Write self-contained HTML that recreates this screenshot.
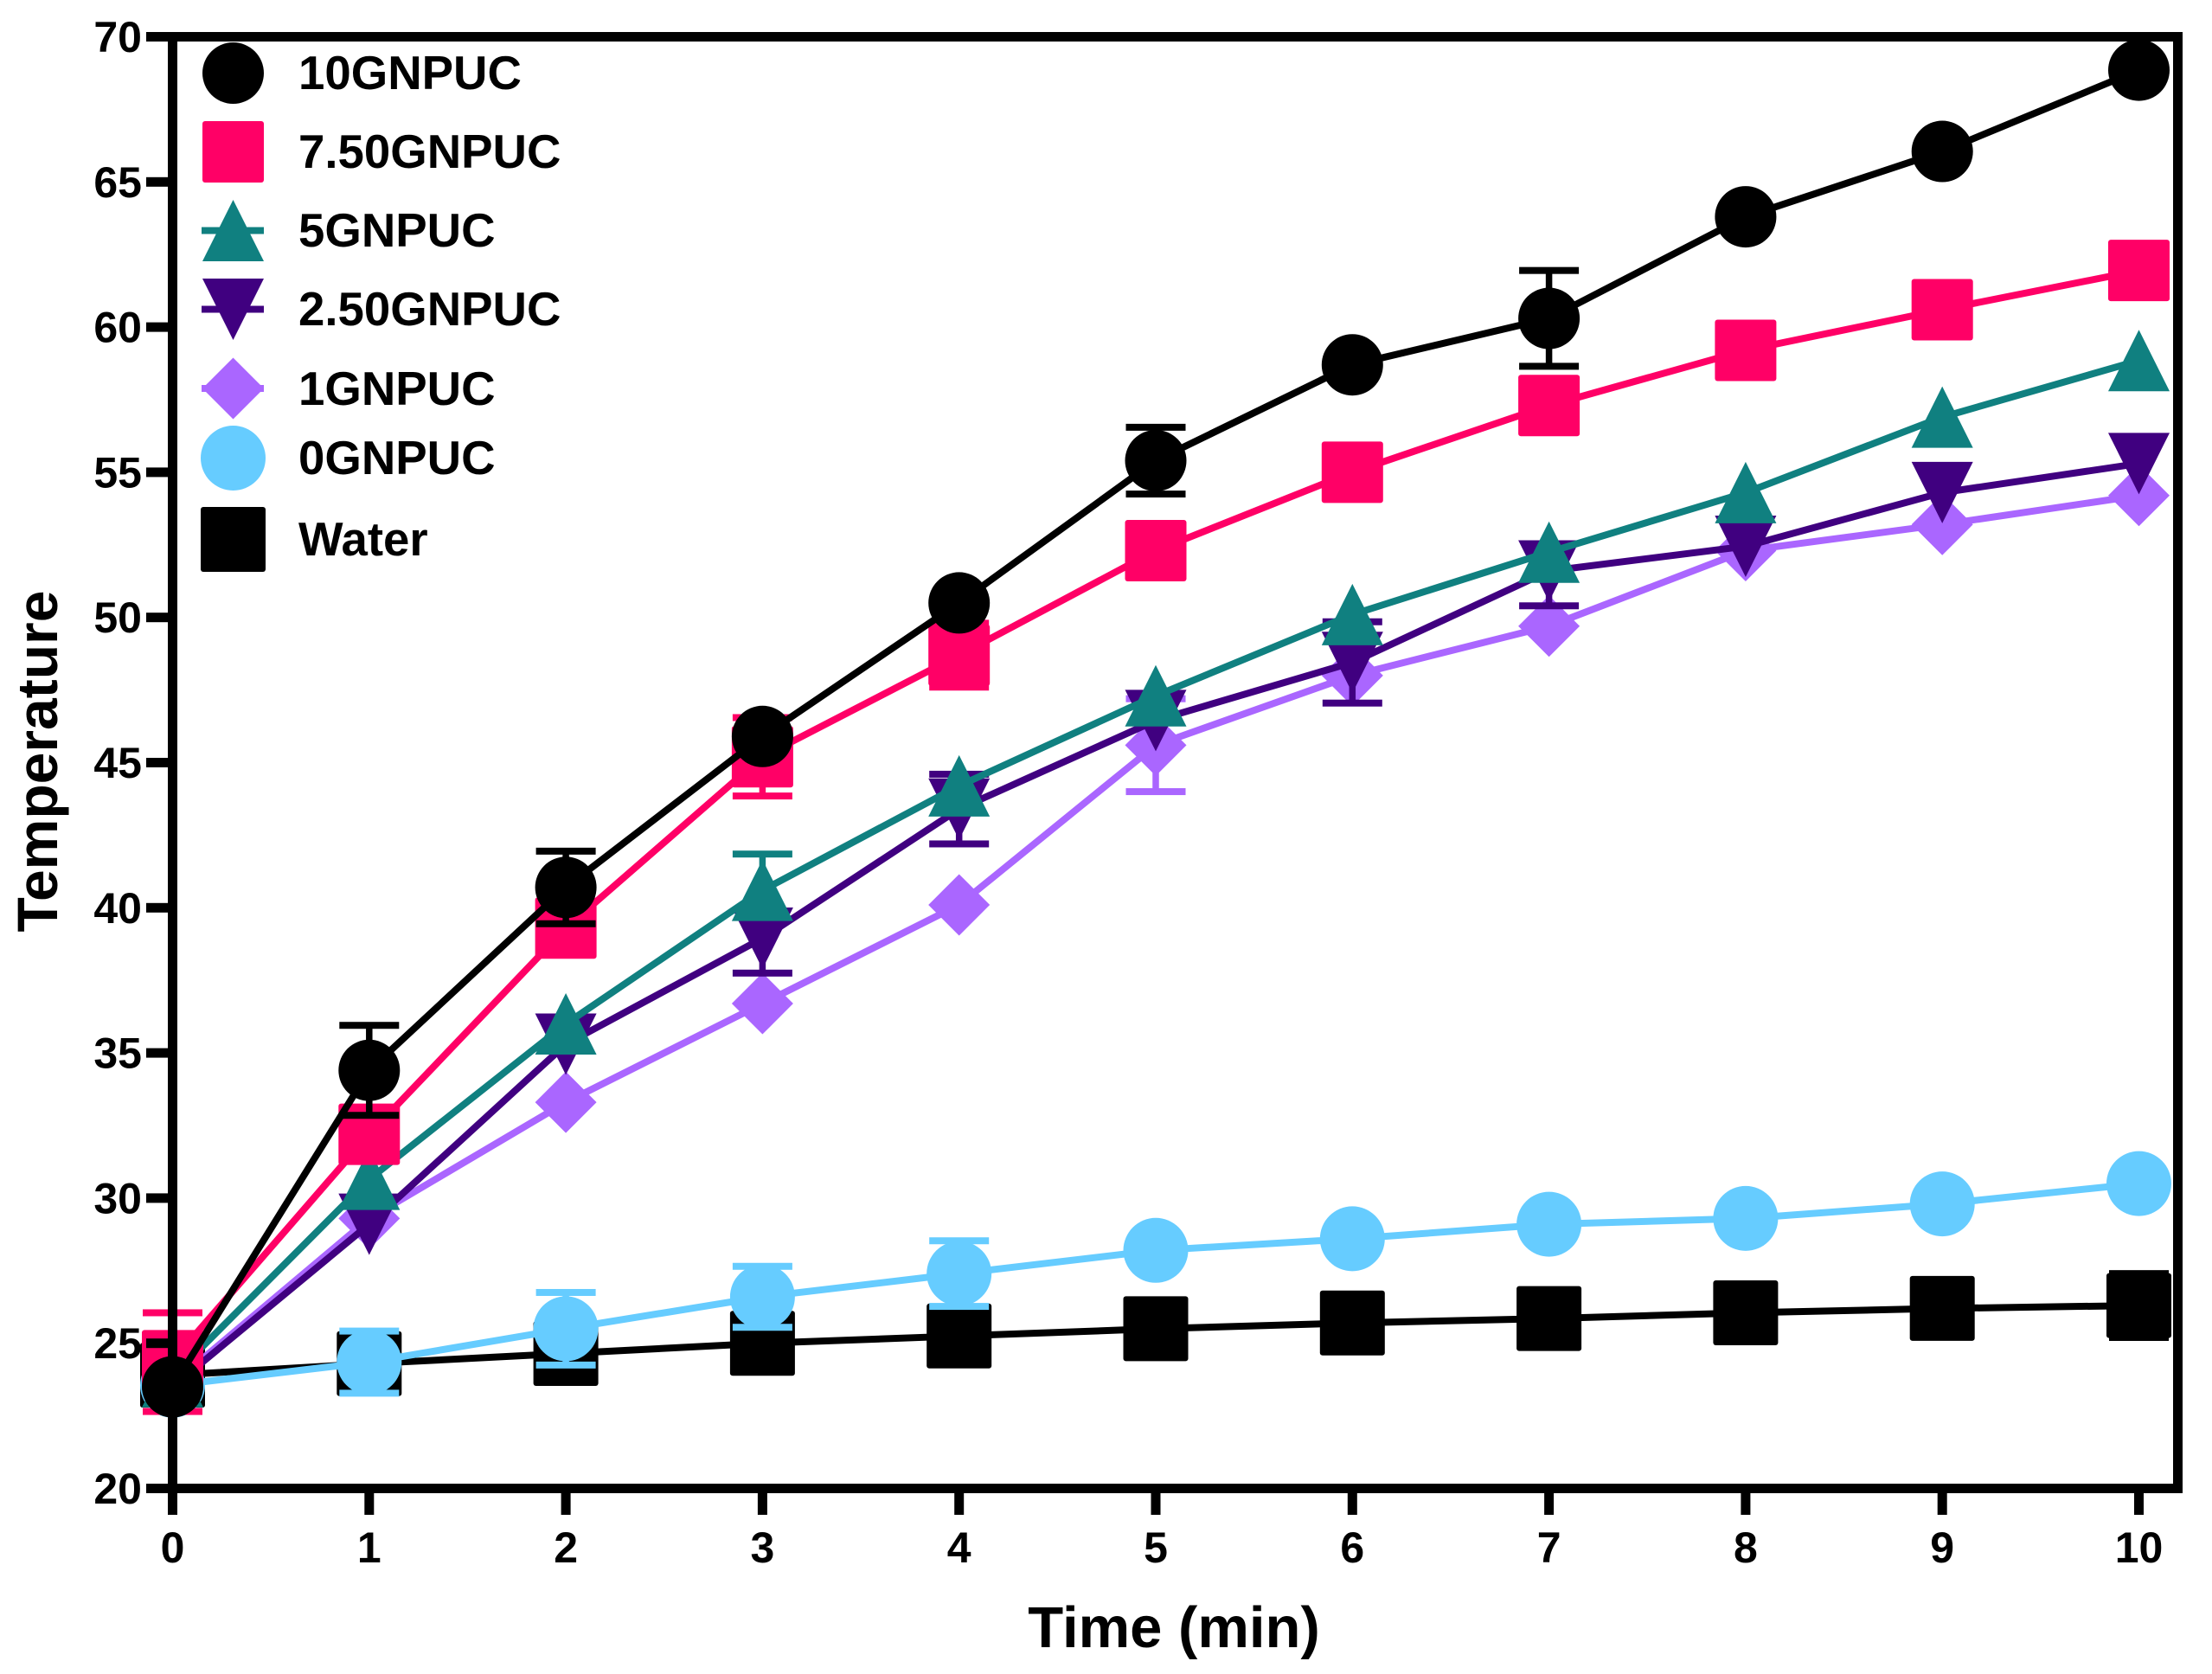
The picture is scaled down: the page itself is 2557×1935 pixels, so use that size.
<!DOCTYPE html>
<html lang="en">
<head>
<meta charset="utf-8">
<title>Temperature vs time chart</title>
<style>
  html, body { margin: 0; padding: 0; background: #ffffff; }
  svg { display: block; }
  text { font-family: "Liberation Sans", Arial, sans-serif; font-weight: bold; fill: #000000; }
</style>
</head>
<body>
<svg id="chart" xmlns="http://www.w3.org/2000/svg" width="2557" height="1935" viewBox="0 0 2557 1935">
  <rect x="0" y="0" width="2557" height="1935" fill="#ffffff"/>
  <g id="series-layer"></g>
  <g id="axes-layer"></g>
  <text x="1357" y="1904" font-size="67" text-anchor="middle">Time (min)</text>
  <text transform="translate(66 880) rotate(-90)" font-size="66" text-anchor="middle">Temperature</text>
  <g>
    <g id="legend-symbols"></g>
    <text x="345" y="103" font-size="54.6">10GNPUC</text>
    <text x="345" y="194" font-size="54.6">7.50GNPUC</text>
    <text x="345" y="285" font-size="54.6">5GNPUC</text>
    <text x="345" y="376" font-size="54.6">2.50GNPUC</text>
    <text x="345" y="468" font-size="54.6">1GNPUC</text>
    <text x="345" y="548" font-size="54.6">0GNPUC</text>
    <text x="345" y="642" font-size="54.6">Water</text>
  </g>
</svg>
<script>
// ---- chart data ----
const timeMinutes = [0, 1, 2, 3, 4, 5, 6, 7, 8, 9, 10];
const xTickLabels = ["0", "1", "2", "3", "4", "5", "6", "7", "8", "9", "10"];
const yTickLabels = ["20", "25", "30", "35", "40", "45", "50", "55", "60", "65", "70"];
const yTickValues = [20, 25, 30, 35, 40, 45, 50, 55, 60, 65, 70];

const temp10 = [23.5, 34.4, 40.7, 45.9, 50.5, 55.4, 58.7, 60.3, 63.8, 66.05, 68.85];
const errUp10 = [0, 1.55, 1.25, 0, 0, 1.15, 0, 1.65, 0, 0, 0];
const errDown10 = [0, 1.55, 1.25, 0, 0, 1.15, 0, 1.65, 0, 0, 0];
const temp75 = [24.4, 32.2, 39.3, 45.2, 48.7, 52.3, 55.0, 57.3, 59.2, 60.6, 61.95];
const errUp75 = [1.65, 0.85, 0.9, 1.35, 1.1, 0, 0, 0, 0, 0, 0];
const errDown75 = [1.75, 0.85, 0.9, 1.35, 1.1, 0, 0, 0, 0, 0, 0];
const temp5 = [23.85, 30.65, 36.0, 40.6, 44.2, 47.3, 50.1, 52.25, 54.3, 56.9, 58.85];
const errUp5 = [0, 0, 0, 1.25, 0, 0, 0, 0, 0, 0, 0];
const errDown5 = [0, 0, 0, 0, 0, 0, 0, 0, 0, 0, 0];
const temp25 = [23.5, 29.1, 35.3, 38.95, 43.4, 46.45, 48.45, 51.6, 52.45, 54.3, 55.3];
const errUp25 = [0, 0, 0, 0, 1.2, 0, 1.4, 0, 0, 0, 0];
const errDown25 = [0, 0, 0, 1.2, 1.2, 0, 1.4, 1.2, 0, 0, 0];
const temp1 = [23.6, 29.3, 33.3, 36.7, 40.1, 45.6, 48.0, 49.7, 52.3, 53.2, 54.2];
const errUp1 = [0, 0, 0, 0, 0, 1.6, 0, 0, 0, 0, 0];
const errDown1 = [0, 0, 0, 0, 0, 1.6, 0, 0, 0, 0, 0];
const temp0 = [23.55, 24.35, 25.5, 26.6, 27.4, 28.2, 28.6, 29.1, 29.3, 29.8, 30.5];
const errUp0 = [0, 1.07, 1.25, 1.05, 1.13, 0, 0, 0, 0, 0, 0];
const errDown0 = [0, 1.07, 1.25, 1.05, 1.13, 0, 0, 0, 0, 0, 0];
const tempWater = [23.9, 24.3, 24.65, 25.0, 25.25, 25.5, 25.7, 25.85, 26.05, 26.2, 26.3];
const errUpWater = [0, 0, 0, 0, 0, 0, 0, 0, 0, 0, 1.1];
const errDownWater = [0, 0, 0, 0, 0, 0, 0, 0, 0, 0, 1.1];

const seriesNames = ["water", "0gnpuc", "1gnpuc", "2-50gnpuc", "5gnpuc", "7-50gnpuc", "10gnpuc"];
const seriesColors = ["#000000", "#66CCFF", "#AA66FF", "#400080", "#108080", "#FF0066", "#000000"];
const seriesShapes = ["square", "circle", "diamond", "down", "up", "square", "circle"];
const seriesValues = [tempWater, temp0, temp1, temp25, temp5, temp75, temp10];
const seriesErrorsUp = [errUpWater, errUp0, errUp1, errUp25, errUp5, errUp75, errUp10];
const seriesErrorsDown = [errDownWater, errDown0, errDown1, errDown25, errDown5, errDown75, errDown10];

// ---- axis functions ----
const NS = "http://www.w3.org/2000/svg";
const plotLeft = 199.5, plotRight = 2517.5, plotTop = 42.5, plotBottom = 1720.5;
const xMin = 0, xMax = 10, yMin = 20, yMax = 70, xEnd = 2472.5;
function xScale(v) { return plotLeft + (v - xMin) / (xMax - xMin) * (xEnd - plotLeft); }
function yScale(v) { return plotBottom - (v - yMin) / (yMax - yMin) * (plotBottom - plotTop); }

function make(tag, attrs, parent) {
  const el = document.createElementNS(NS, tag);
  for (const k in attrs) el.setAttribute(k, attrs[k]);
  parent.appendChild(el);
  return el;
}

function drawMarker(shape, cx, cy, size, color, parent) {
  const h = size / 2;
  let el;
  if (shape === "circle") {
    el = make("circle", { cx: cx, cy: cy, r: h, fill: color }, parent);
  } else if (shape === "square") {
    el = make("rect", { x: cx - h, y: cy - h, width: size, height: size, rx: 3, fill: color }, parent);
  } else {
    let pts;
    if (shape === "up") pts = [[cx, cy - h], [cx + h, cy + h], [cx - h, cy + h]];
    else if (shape === "down") pts = [[cx, cy + h], [cx + h, cy - h], [cx - h, cy - h]];
    else pts = [[cx, cy - h], [cx + h, cy], [cx, cy + h], [cx - h, cy]];
    el = make("polygon", { points: pts.map(function (p) { return p.join(","); }).join(" "), fill: color }, parent);
  }
  return el;
}

function drawError(x, fromY, toY, color, name, parent) {
  const stem = make("line", { x1: x, x2: x, y1: fromY, y2: toY, stroke: color, "stroke-width": 7.5 }, parent);
  
  
  const cap = make("rect", { x: x - 34.5, y: toY - 4, width: 69, height: 8, fill: color }, parent);
  
  
}

// ---- series ----
const seriesLayer = document.getElementById("series-layer");
seriesNames.forEach(function (name, s) {
  const color = seriesColors[s];
  const values = seriesValues[s];
  const errUp = seriesErrorsUp[s];
  const errDown = seriesErrorsDown[s];
  const markerSize = (name === "water" || name === "0gnpuc") ? 75 : 71;
  const group = make("g", {}, seriesLayer);
  
  

  timeMinutes.forEach(function (t, i) {
    const x = xScale(t);
    const mid = yScale(values[i]);
    if (errUp[i]) drawError(x, mid, yScale(values[i] + errUp[i]), color, name, group);
    if (errDown[i]) drawError(x, mid, yScale(values[i] - errDown[i]), color, name, group);
  });

  const pts = timeMinutes.map(function (t, i) { return xScale(t) + "," + yScale(values[i]); }).join(" ");
  const line = make("polyline", { points: pts, fill: "none", stroke: color, "stroke-width": 8, "stroke-linejoin": "miter" }, group);
  
  

  timeMinutes.forEach(function (t, i) {
    const m = drawMarker(seriesShapes[s], xScale(t), yScale(values[i]), markerSize, color, group);
    
    
  });
});

// ---- axes ----
const axes = document.getElementById("axes-layer");
const axisW = 11;
const frameLeft = make("rect", { x: plotLeft - axisW / 2, y: plotTop - axisW / 2, width: axisW, height: 1751 - plotTop + axisW / 2, fill: "#000" }, axes);


const frameBottom = make("rect", { x: 169, y: plotBottom - axisW / 2, width: plotRight + axisW / 2 - 169, height: axisW, fill: "#000" }, axes);


const frameTop = make("rect", { x: 169, y: plotTop - axisW / 2, width: plotRight + axisW / 2 - 169, height: axisW, fill: "#000" }, axes);


const frameRight = make("rect", { x: plotRight - axisW / 2, y: plotTop - axisW / 2, width: axisW, height: plotBottom - plotTop + axisW, fill: "#000" }, axes);



yTickValues.forEach(function (v, i) {
  const y = yScale(v);
  const tick = make("rect", { x: 169, y: y - axisW / 2, width: 30, height: axisW, fill: "#000" }, axes);
  
  
  const label = make("text", { x: 164, y: y + 17.5, "font-size": 50, "text-anchor": "end" }, axes);
  
  
  label.textContent = yTickLabels[i];
});

timeMinutes.forEach(function (t, i) {
  const x = xScale(t);
  const tick = make("rect", { x: x - axisW / 2, y: plotBottom, width: axisW, height: 30.5, fill: "#000" }, axes);
  
  
  const label = make("text", { x: x, y: 1806, "font-size": 50, "text-anchor": "middle" }, axes);
  
  
  label.textContent = xTickLabels[i];
});

// ---- legend symbols ----
const legendSymbols = document.getElementById("legend-symbols");
const legendKeys = ["10gnpuc", "7-50gnpuc", "5gnpuc", "2-50gnpuc", "1gnpuc", "0gnpuc", "water"];
const legendRowCenters = [84.5, 175.5, 266.5, 357.5, 449, 529.5, 623.5];
legendKeys.forEach(function (key, i) {
  const s = seriesNames.indexOf(key);
  const cy = legendRowCenters[i];
  const size = (key === "water" || key === "0gnpuc") ? 75 : 71;
  if (key === "5gnpuc" || key === "2-50gnpuc" || key === "1gnpuc") {
    const dash = make("rect", { x: 233, y: cy - 4, width: 72, height: 8, fill: seriesColors[s] }, legendSymbols);
    
    
  }
  const m = drawMarker(seriesShapes[s], 269.5, cy, size, seriesColors[s], legendSymbols);
  
  
});
</script>
</body>
</html>
